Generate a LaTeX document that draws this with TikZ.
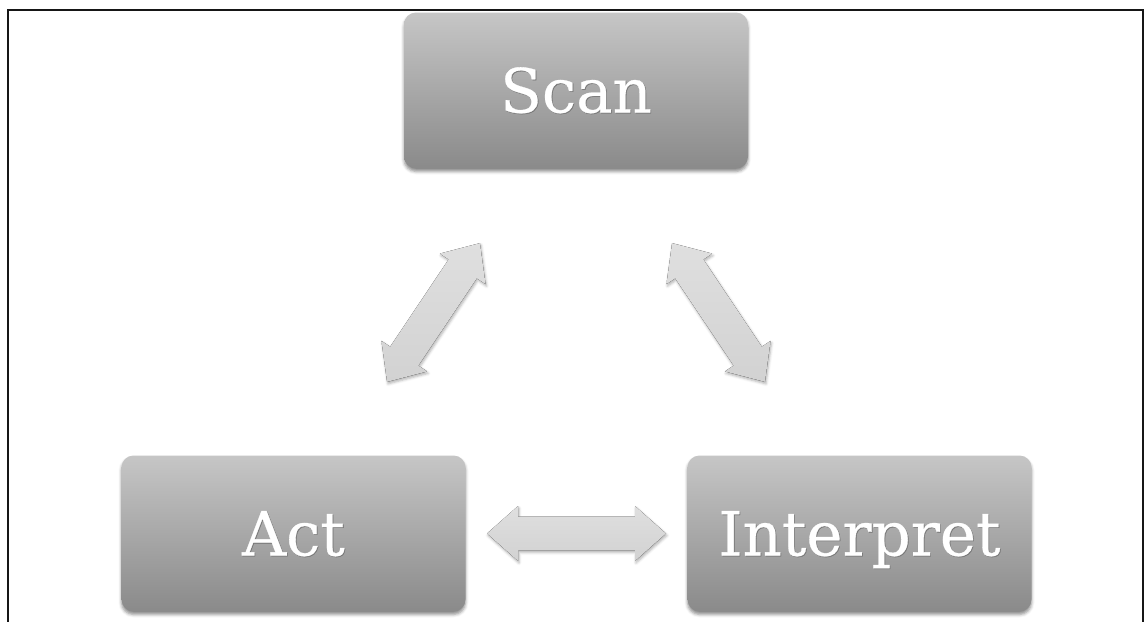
\documentclass[tikz,border=0pt]{standalone}
\usepackage{fontspec}
\setmainfont[FakeBold=0.5]{DejaVu Serif}
\usetikzlibrary{shadows.blur}
\definecolor{boxtop}{RGB}{198,198,198}
\definecolor{boxbot}{RGB}{138,138,138}
\definecolor{arrtop}{RGB}{223,223,223}
\definecolor{arrbot}{RGB}{210,210,210}
\definecolor{frameline}{RGB}{22,22,22}
\definecolor{txtshade}{RGB}{120,120,120}
% white lettering with a faint dark shade behind it
\newcommand\shadedword[1]{\leavevmode\rlap{\kern0.8pt\raisebox{-0.8pt}{\textcolor{txtshade}{#1}}}#1}
\tikzset{
  stagebox/.style={rounded corners=12pt, top color=boxtop, bottom color=boxbot,
    minimum width=344pt, minimum height=156pt, inner sep=0pt,
    text=white, font=\fontsize{61}{61}\selectfont, text height=44pt, text depth=0pt,
    blur shadow={shadow xshift=0pt, shadow yshift=-3pt, shadow blur radius=3pt, shadow opacity=45}},
  arrowbody/.style={top color=arrtop, bottom color=arrbot,
    blur shadow={shadow xshift=1pt, shadow yshift=-2pt, shadow blur radius=2.5pt, shadow opacity=30}},
  pics/dblarrow/.style={code={
    \fill[arrowbody] (#1/2,0) -- (#1/2-31,27.5) -- (#1/2-31,17) -- (-#1/2+31,17)
      -- (-#1/2+31,27.5) -- (-#1/2,0) -- (-#1/2+31,-27.5) -- (-#1/2+31,-17)
      -- (#1/2-31,-17) -- (#1/2-31,-27.5) -- cycle;}}
}
\begin{document}
\begin{tikzpicture}[x=1pt,y=-1pt]
\useasboundingbox (0,0) rectangle (1147,621);
% open frame
\draw[frameline, line width=2pt] (8,625) -- (8,10) -- (1143,10) -- (1143,625);

% the three stages
\node[stagebox] (scan)   at (576,90.5)    {\shadedword{Scan}};
\node[stagebox] (act)    at (293.5,533.5) {\shadedword{Act}};
\node[stagebox] (interp) at (859.5,533.5) {\shadedword{Interpret}};

% two-way arrows between the stages
\path (act.east) -- (interp.west) coordinate[midway] (actinterp);
\coordinate (scanact)    at (433.5,312.5);
\coordinate (scaninterp) at (718.5,312.5);
\pic[rotate=56.2]  at (scanact)    {dblarrow=167};
\pic[rotate=-56.2] at (scaninterp) {dblarrow=167};
\pic               at (actinterp)  {dblarrow=179};
\end{tikzpicture}
\end{document}
